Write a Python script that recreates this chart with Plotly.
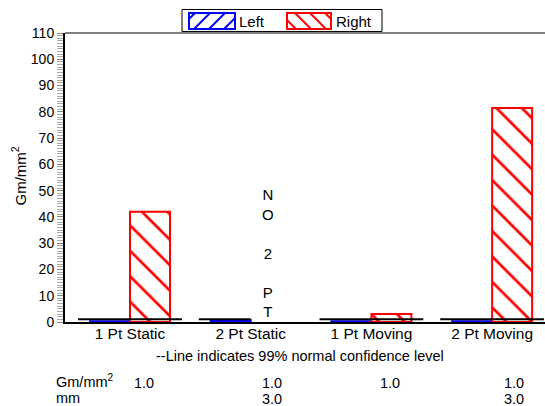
import plotly.graph_objects as go

# ---------------- data ----------------
categories = ["1 Pt Static", "2 Pt Static", "1 Pt Moving", "2 Pt Moving"]
left_vals = [0.3, 0.8, 0.3, 0.3]
right_vals = [42.0, None, 3.0, 81.5]
conf_left = [1.0, 1.0, 1.0, 1.0]
conf_right = [1.0, None, 1.0, 1.0]
gm_row = ["1.0", "1.0", "1.0", "1.0"]
mm_row = ["", "3.0", "", "3.0"]
y_ticks = list(range(0, 111, 10))

FONT = "Liberation Sans, Arial, Helvetica, sans-serif"
W, H = 545, 406
ML, MR, MT, MB = 65, 0, 33, 84
PW, PH = W - ML - MR, H - MT - MB


def px(x):
    return (x - ML) / PW


def py(y):
    return (H - MB - y) / PH


xs = list(range(len(categories)))

fig = go.Figure()
fig.add_trace(go.Bar(
    x=xs, y=left_vals, name="Left",
    marker=dict(color="white", line=dict(color="#0000ff", width=2),
                pattern=dict(shape="/", fgcolor="#0000ff", bgcolor="white", fgopacity=1,
                             size=18, solidity=0.15)),
    showlegend=False,
))
fig.add_trace(go.Bar(
    x=xs, y=right_vals, name="Right",
    marker=dict(color="white", line=dict(color="#ff0000", width=2),
                pattern=dict(shape="\\", fgcolor="#ff0000", bgcolor="white", fgopacity=1,
                             size=18, solidity=0.15)),
    showlegend=False,
))

# confidence lines
lx, ly = [], []
for i, (cl, cr) in enumerate(zip(conf_left, conf_right)):
    if cl is not None:
        lx += [i - 0.43, i, None]
        ly += [cl, cl, None]
    if cr is not None:
        lx += [i, i + 0.43, None]
        ly += [cr, cr, None]
fig.add_trace(go.Scatter(x=lx, y=ly, mode="lines", line=dict(color="black", width=2),
                         showlegend=False, hoverinfo="skip"))


def ann(text, x, y, xanchor="center", size=14.5, **kw):
    d = dict(text=text, xref="paper", yref="paper", x=x, y=y, xanchor=xanchor, yanchor="middle",
             showarrow=False, font=dict(size=size, color="black", family=FONT))
    d.update(kw)
    return d


annotations = []
annotations.append(ann("Gm/mm<sup>2</sup>", px(18.5), py(176), size=15, textangle=-90))
annotations.append(dict(text="N<br>O<br><br>2<br><br>P<br>T", xref="x", yref="y",
                        x=1.14, y=26.4, showarrow=False, yanchor="middle",
                        font=dict(size=15, color="black", family=FONT)))
annotations.append(ann("--Line indicates 99% normal confidence level", px(299.5), py(355.5)))
annotations.append(ann("Gm/mm<sup>2</sup>", px(54), py(381), xanchor="left"))
annotations.append(ann("mm", px(54), py(398), xanchor="left"))
table_right_px = [156, 284, 402, 526]
for i in xs:
    if gm_row[i]:
        annotations.append(ann(gm_row[i], px(table_right_px[i]), py(383), xanchor="right"))
    if mm_row[i]:
        annotations.append(ann(mm_row[i], px(table_right_px[i]), py(398.5), xanchor="right"))
annotations.append(ann("Left", px(237), py(21), xanchor="left", size=15))
annotations.append(ann("Right", px(334), py(21), xanchor="left", size=15))

shapes = []
shapes.append(dict(type="line", xref="paper", yref="paper", x0=0, x1=1, y0=1, y1=1,
                   line=dict(color="#555555", width=1.5)))
shapes.append(dict(type="rect", xref="paper", yref="paper", x0=px(182), x1=px(382),
                   y0=py(31.5), y1=py(9.5), line=dict(color="black", width=1), fillcolor="white"))


def swatch(x0, x1, y0, y1, color, direction):
    out = [dict(type="rect", xref="paper", yref="paper", x0=px(x0), x1=px(x1), y0=py(y1), y1=py(y0),
                line=dict(color=color, width=2), fillcolor="white")]
    h = y1 - y0
    step = 15
    b = x0 - h + 6
    while b < x1:
        sx, ex = b, b + h
        sy, ey = y1, y0
        if sx < x0:
            sy = y1 - (x0 - sx)
            sx = x0
        if ex > x1:
            ey = y0 + (ex - x1)
            ex = x1
        if ex > sx:
            if direction == "/":
                out.append(dict(type="line", xref="paper", yref="paper", x0=px(sx), y0=py(sy),
                                x1=px(ex), y1=py(ey), line=dict(color=color, width=2)))
            else:
                mx0 = x0 + x1 - sx
                mx1 = x0 + x1 - ex
                out.append(dict(type="line", xref="paper", yref="paper", x0=px(mx0), y0=py(sy),
                                x1=px(mx1), y1=py(ey), line=dict(color=color, width=2)))
        b += step
    return out


shapes += swatch(189, 235, 13, 29, "#0000ff", "/")
shapes += swatch(287, 331, 13, 29, "#ff0000", "\\")

fig.update_layout(
    width=W, height=H,
    margin=dict(l=ML, r=MR, t=MT, b=MB, pad=0, autoexpand=False),
    paper_bgcolor="white", plot_bgcolor="white",
    barmode="group", bargap=0.337, bargroupgap=0,
    showlegend=False,
    font=dict(family=FONT, color="black", size=14),
    annotations=annotations,
    shapes=shapes,
)
fig.update_xaxes(
    range=[-0.5385, 3.438], tickmode="array", tickvals=xs, ticktext=categories,
    showline=True, linecolor="black", linewidth=2, ticks="", showgrid=False, zeroline=False,
    tickfont=dict(size=15.5, family=FONT, color="black"), automargin=False,
    ticklabelstandoff=-4,
)
fig.update_yaxes(
    range=[0, 110], tickmode="array", tickvals=y_ticks,
    showline=True, linecolor="black", linewidth=2, ticks="outside", ticklen=6,
    tickcolor="#888888", tickwidth=1, showgrid=False, zeroline=False,
    minor=dict(dtick=1, ticks="outside", ticklen=6, tickcolor="#aaaaaa", tickwidth=1, showgrid=False),
    tickfont=dict(size=14, family=FONT, color="black"), automargin=False,
)

fig.write_html("out.html", config={"displayModeBar": False},
               post_script="document.body.style.margin='0';document.body.style.overflow='hidden';")
